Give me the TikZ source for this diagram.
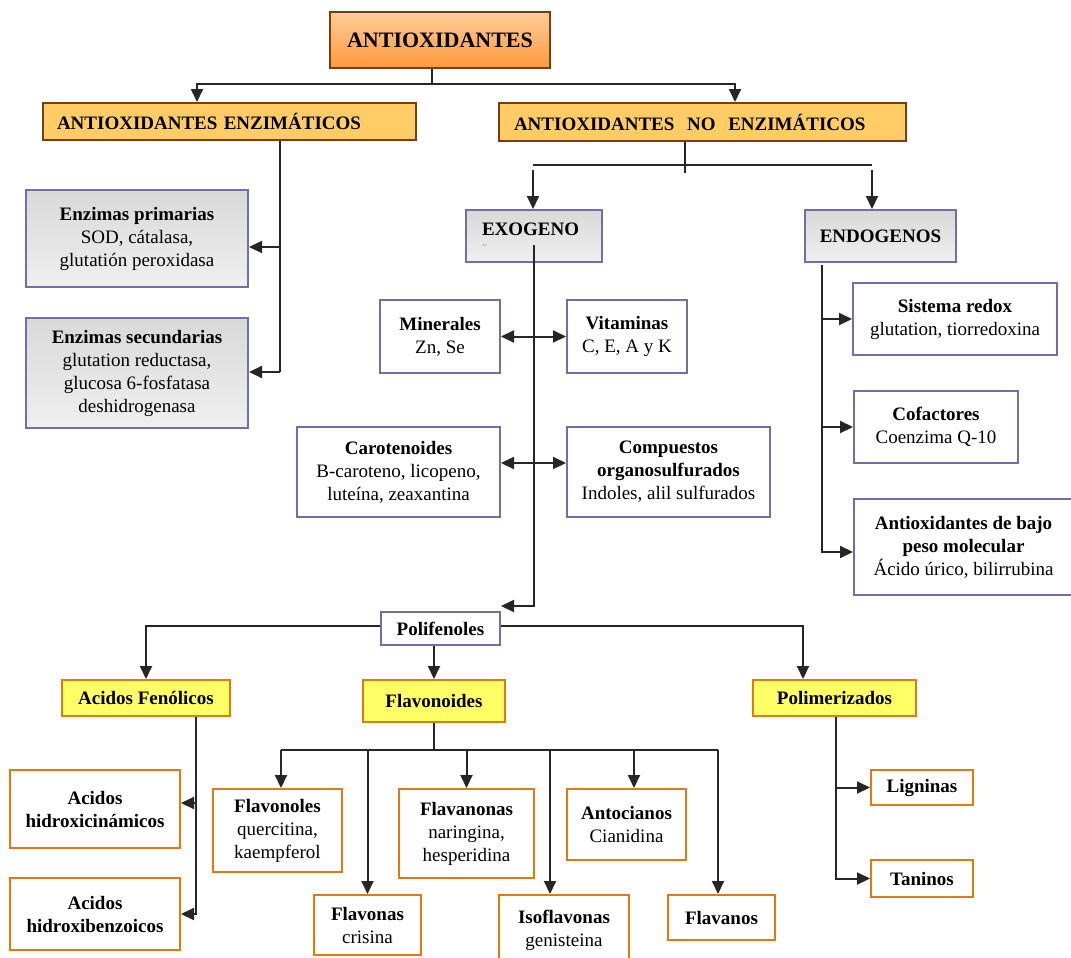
\documentclass[tikz,border=0pt]{standalone}
\usepackage{fontspec}
\setmainfont{Liberation Serif}
\usetikzlibrary{arrows.meta}

\definecolor{darkbrown}{HTML}{7A3D0C}
\definecolor{lightorange}{HTML}{FFCC99}
\definecolor{deeporange}{HTML}{FF9A3C}
\definecolor{gold}{HTML}{FFCC66}
\definecolor{slate}{HTML}{7070A8}
\definecolor{lemon}{HTML}{FFFF66}
\definecolor{orangeline}{HTML}{E07B12}

\begin{document}
\begin{tikzpicture}[x=1pt,y=-1pt,>={Triangle[length=13pt,width=12pt]},
    base/.style={draw,line width=2pt,inner sep=2pt,align=center,font=\fontsize{19}{23}\selectfont},
    topbox/.style={base,draw=darkbrown,top color=lightorange,bottom color=deeporange,font=\fontsize{22}{26}\selectfont\bfseries},
    goldbox/.style={base,draw=darkbrown,fill=gold,align=left,font=\fontsize{19}{23}\selectfont\bfseries},
    graybox/.style={base,draw=slate,top color=gray!30,bottom color=gray!12},
    bluebox/.style={base,draw=slate,fill=white},
    yelbox/.style={base,draw=orangeline,fill=lemon,font=\fontsize{19}{23}\selectfont\bfseries},
    orbox/.style={base,draw=orangeline,fill=white},
    link/.style={line width=2pt,draw=black!85}]
\fill[white] (0,0) rectangle (1071,958);
\useasboundingbox (0,0) rectangle (1071,958);

% first two levels
\node[topbox,minimum width=220,minimum height=56] (anti) at (440,40) {ANTIOXIDANTES};
\node[goldbox,text width=345,inner xsep=14,minimum height=37] (enz) at (229.5,121.5) {ANTIOXIDANTES ENZIMÁTICOS};
\node[goldbox,text width=377,inner xsep=15,minimum height=38] (noenz) at (702.5,122) {ANTIOXIDANTES\ \ NO\ \ ENZIMÁTICOS};

% enzimaticos
\node[graybox,minimum width=222,minimum height=97] (enzp) at (137,238.5) {\textbf{Enzimas primarias}\\SOD, cátalasa,\\glutatión peroxidasa};
\node[graybox,minimum width=222,minimum height=110] (enzs) at (137,373) {\textbf{Enzimas secundarias}\\glutation reductasa,\\glucosa 6-fosfatasa\\deshidrogenasa};

% no enzimaticos
\node[graybox,text width=104,inner xsep=16,minimum height=52,align=left,font=\fontsize{19}{23}\selectfont\bfseries] (exo) at (534,236) {EXOGENO\\[-10pt]{\fontsize{9}{9}\selectfont\mdseries\color{gray}\textasciitilde}};
\node[graybox,minimum width=151,minimum height=52,font=\fontsize{19}{23}\selectfont\bfseries] (endo) at (880.5,236) {ENDOGENOS};

\node[bluebox,minimum width=120,minimum height=73] (mine) at (440,336.5) {\textbf{Minerales}\\Zn, Se};
\node[bluebox,minimum width=120,minimum height=73] (vita) at (627,336.5) {\textbf{Vitaminas}\\C, E, A y K};
\node[bluebox,minimum width=203,minimum height=90] (caro) at (398.5,472) {\textbf{Carotenoides}\\B-caroteno, licopeno,\\luteína, zeaxantina};
\node[bluebox,minimum width=203,minimum height=90] (comp) at (668.5,472) {\textbf{Compuestos}\\\textbf{organosulfurados}\\Indoles, alil sulfurados};
\node[bluebox,minimum width=119,minimum height=33] (poli) at (440.5,628.5) {\textbf{Polifenoles}};

\node[bluebox,minimum width=204,minimum height=72] (redox) at (955,319) {\textbf{Sistema redox}\\glutation, tiorredoxina};
\node[bluebox,minimum width=164,minimum height=72] (cofa) at (936,427) {\textbf{Cofactores}\\Coenzima Q-10};
\node[bluebox,minimum width=219,minimum height=96] (bajo) at (963.5,547) {\textbf{Antioxidantes de bajo}\\\textbf{peso molecular}\\Ácido úrico, bilirrubina};

% polifenoles
\node[yelbox,minimum width=168,minimum height=36] (acfe) at (146,698) {Acidos Fenólicos};
\node[yelbox,minimum width=142,minimum height=42] (flav) at (434,701) {Flavonoides};
\node[yelbox,minimum width=163,minimum height=36] (poly) at (834.5,698) {Polimerizados};

\node[orbox,minimum width=170,minimum height=78] (hcin) at (95,809) {\textbf{Acidos}\\\textbf{hidroxicinámicos}};
\node[orbox,minimum width=170,minimum height=72] (hben) at (95,914) {\textbf{Acidos}\\\textbf{hidroxibenzoicos}};

\node[orbox,minimum width=129,minimum height=83] (fnol) at (277.5,830.5) {\textbf{Flavonoles}\\quercitina,\\kaempferol};
\node[orbox,minimum width=107,minimum height=60] (fona) at (367.5,925) {\textbf{Flavonas}\\crisina};
\node[orbox,minimum width=135,minimum height=89] (fana) at (466.5,833.5) {\textbf{Flavanonas}\\naringina,\\hesperidina};
\node[orbox,minimum width=130,minimum height=70] (isof) at (564,930) {\textbf{Isoflavonas}\\genisteina};
\node[orbox,minimum width=119,minimum height=71] (anto) at (626.5,824.5) {\textbf{Antocianos}\\Cianidina};
\node[orbox,minimum width=107,minimum height=45] (fano) at (721.5,917.5) {\textbf{Flavanos}};

\node[orbox,minimum width=102,minimum height=35] (lign) at (922,787.5) {\textbf{Ligninas}};
\node[orbox,minimum width=102,minimum height=37] (tani) at (922,878.5) {\textbf{Taninos}};

% connectors, top
\coordinate (aj) at (432,84);
\draw[link] (anti.south -| aj) -- (aj);
\draw[link,->] (aj) -| ([xshift=-32.5]enz.north);
\draw[link,->] (aj) -| ([xshift=32.5]noenz.north);

\coordinate (ej) at (280,372);
\coordinate (pa) at ([yshift=-8.5]enzp.east);
\draw[link] (ej |- enz.south) -- (ej);
\draw[link,->] (ej) -- (ej -| enzs.east);
\draw[link,<-] (pa) -- (pa -| ej);

\coordinate (nj) at (685,165);
\coordinate (nl) at (533,165);
\coordinate (nr) at (872,165);
\draw[link] (nj |- noenz.south) -- ([yshift=-8]nj);
\draw[link] (nl) -- (nr);
\draw[link,->] ([yshift=-5]nl) -- (nl |- exo.north);
\draw[link,->] ([yshift=-5]nr) -- (nr |- endo.north);

% exogeno
\coordinate (xt) at ([yshift=-9]exo.center);
\coordinate (pt) at ([yshift=5]poli.north east);
\draw[link,->] (xt) |- (pt);
\draw[link,<->] (mine) -- (vita);
\coordinate (ca) at ([yshift=9]caro.east);
\draw[link,<->] (ca) -- (ca -| comp.west);

% endogenos
\coordinate (dj) at (822,265);
\draw[link,->] (dj) |- ([yshift=-5]bajo.west);
\draw[link,->] (dj |- redox.west) -- (redox.west);
\draw[link,->] (dj |- cofa.west) -- (cofa.west);

% polifenoles
\coordinate (pl) at ([yshift=3]poli.west);
\coordinate (pr) at ([yshift=3]poli.east);
\draw[link,->] (pl) -| (acfe.north);
\draw[link,->] (pr) -| ([xshift=-31.5]poly.north);
\draw[link,->] (flav.north |- poli.south) -- (flav.north);

\coordinate (aa) at ([xshift=50]acfe.south);
\coordinate (hc) at ([yshift=6]hcin.east);
\draw[link,->] (aa) |- (hben.east);
\draw[link,<-] (hc) -- (hc -| aa);

\coordinate (fL) at (281,750);
\coordinate (fR) at (718,750);
\coordinate (iL) at ([xshift=-14]isof.north);
\coordinate (aN) at ([xshift=7.5]anto.north);
\draw[link] (flav.south) -- (flav.south |- fL);
\draw[link] (fL) -- (fR);
\draw[link,->] (fL) -- (fL |- fnol.north);
\draw[link,->] (fona.north |- fL) -- (fona.north);
\draw[link,->] (fana.north |- fL) -- (fana.north);
\draw[link,->] (iL |- fL) -- (iL);
\draw[link,->] (aN |- fL) -- (aN);
\draw[link,->] (fR) -- (fR |- fano.north);

\coordinate (pj) at ([xshift=1.5]poly.south);
\draw[link,->] (pj) |- (tani.west);
\draw[link,->] (pj |- lign.west) -- (lign.west);
\end{tikzpicture}
\end{document}
